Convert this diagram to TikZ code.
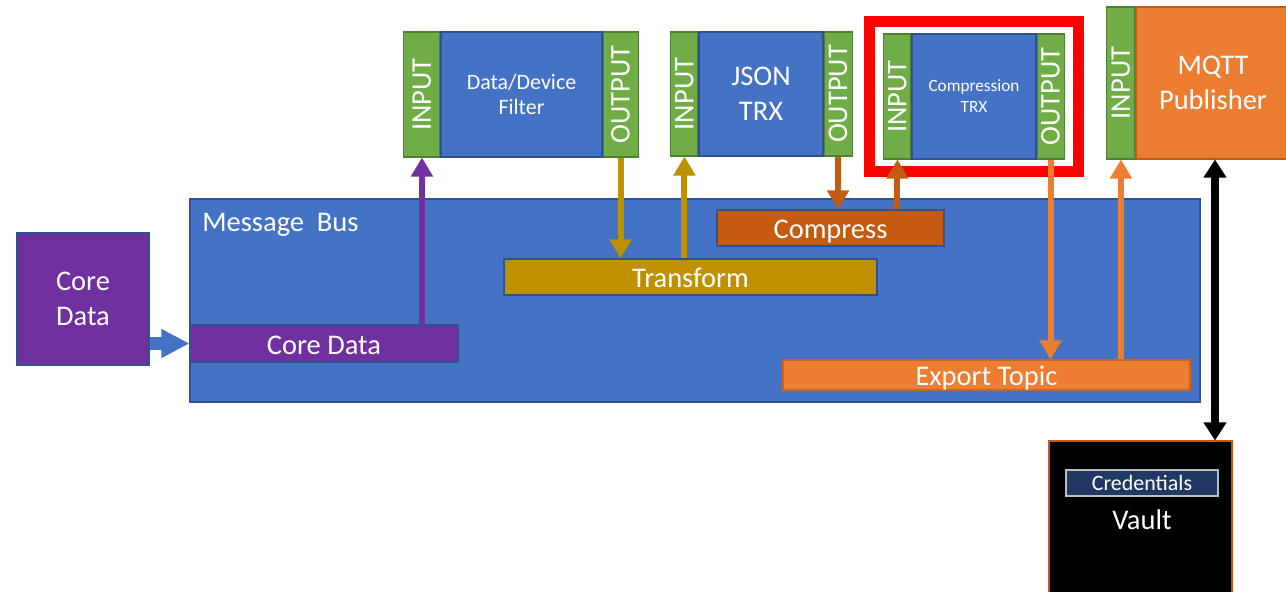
\documentclass[tikz,border=0pt]{standalone}
\usepackage{fontspec}
\setmainfont{Carlito}
\usetikzlibrary{positioning}
\usetikzlibrary{arrows.meta}
\usetikzlibrary{fit}

\definecolor{busblue}{HTML}{4472C4}
\definecolor{busedge}{HTML}{2F528F}
\definecolor{coreviolet}{HTML}{7030A0}
\definecolor{trgold}{HTML}{BF9000}
\definecolor{cmbrown}{HTML}{C55A11}
\definecolor{exorange}{HTML}{ED7D31}
\definecolor{exedge}{HTML}{C8662A}
\definecolor{portgreen}{HTML}{70AD47}
\definecolor{portedge}{HTML}{507E32}
\definecolor{crednavy}{HTML}{203864}

\begin{document}
\begin{tikzpicture}[x=0.02cm, y=-0.02cm]
            \tikzset{every node/.style={inner sep=0pt, text=white, align=center,
                font=\fontsize{16.2}{19.8}\selectfont},
                sz/.style 2 args={minimum width=#1*0.02cm, minimum height=#2*0.02cm},
                bar/.style={draw=busedge, line width=0.6pt},
                topic/.style={bar, text height=12pt, text depth=0pt},
                body/.style={draw=busedge, fill=busblue, line width=0.6pt},
                port/.style={draw=portedge, fill=portgreen, line width=0.6pt},
                flow/.style={line width=0.12cm, -{Triangle[width=0.42cm, length=0.38cm]}}}
            \useasboundingbox (0,0) rectangle (1286,592);
            \clip (0,0) rectangle (1286,592);
            % message bus and its topics
            \node [body, sz={1010}{203}] (bus) at (695,300.5) {};
            \node [anchor=base west] (bustitle) at (202,231) {Message\ \ Bus};
            \node [topic, fill=coreviolet, sz={268}{37}] (cdbar) at (324,343.5) {Core Data};
            \node [topic, fill=trgold, sz={373}{36}] (trbar) at (690.5,277) {Transform};
            \node [topic, fill=cmbrown, sz={227}{36}] (cmbar) at (830.5,228) {Compress};
            \node [topic, draw=exedge, fill=exorange, sz={407}{30}] (exbar) at (986.5,375) {Export Topic};
            \node [bar, fill=coreviolet, sz={132}{132}] (core) at (83,299) {Core\\Data};
            % pipeline functions
            \node [body, sz={161}{125}, font=\fontsize{12.5}{14.7}\selectfont] (fbody) at (521.5,94.5) {Data/Device\\Filter};
            \node [port, sz={36}{125}, left=0pt of fbody, label={[rotate=90]center:INPUT}] (fin) {};
            \node [port, sz={35}{125}, right=0pt of fbody, label={[rotate=90]center:OUTPUT}] (fout) {};
            \node [body, sz={124}{124}] (jbody) at (761,94) {JSON\\TRX};
            \node [port, sz={27}{124}, left=0pt of jbody, label={[rotate=90]center:INPUT}] (jin) {};
            \node [port, sz={28}{124}, right=0pt of jbody, label={[rotate=90]center:OUTPUT}] (jout) {};
            \node [body, sz={124}{125}, font=\fontsize{9.8}{11.9}\selectfont] (cbody) at (974,96.5) {Compression\\TRX};
            \node [port, sz={27}{125}, left=0pt of cbody, label={[rotate=90]center:INPUT}] (cin) {};
            \node [port, sz={27}{125}, right=0pt of cbody, label={[rotate=90]center:OUTPUT}] (cout) {};
            \node [draw=red, line width=0.22cm, fit=(cin)(cout), inner xsep=0.27cm, inner ysep=0.24cm] (hilite) {};
            \node [bar, draw=cmbrown, fill=exorange, sz={154}{152}] (mbody) at (1213,83) {MQTT\\Publisher};
            \node [port, sz={28}{152}, left=0pt of mbody, label={[rotate=90]center:INPUT}] (min) {};
            % secret store
            \node [draw=cmbrown, fill=black, line width=0.6pt, sz={183}{160}] (vault) at (1140.5,521) {};
            \node [draw=black!25, fill=crednavy, line width=0.8pt, sz={152}{26},
                font=\fontsize{12.5}{14}\selectfont] (cred) at (1142,483) {Credentials};
            \node [below=0.26cm of cred] (vaulttxt) {Vault};
            % data flow
            \draw [busblue, line width=0.26cm, -{Triangle[width=0.54cm, length=0.56cm]}] (core.east |- cdbar.west) -- (cdbar.west);
            \draw [flow, coreviolet] (fin.south |- cdbar.north) -- (fin.south);
            \draw [flow, trgold] (fout.south) -- (fout.south |- trbar.north);
            \draw [flow, trgold] (jin.south |- trbar.north) -- (jin.south);
            \draw [flow, cmbrown] (jout.south) -- (jout.south |- cmbar.north);
            \draw [flow, cmbrown] (cin.south |- cmbar.north) -- (cin.south);
            \draw [flow, exorange] (cout.south) -- (cout.south |- exbar.north);
            \draw [flow, exorange] (min.south |- exbar.north) -- (min.south);
            \draw [line width=0.16cm, {Triangle[width=0.44cm, length=0.36cm]}-{Triangle[width=0.44cm, length=0.36cm]}]
                ([xshift=0.04cm]mbody.south) -- ([xshift=0.04cm]mbody.south |- vault.north);
        \end{tikzpicture}
\end{document}
